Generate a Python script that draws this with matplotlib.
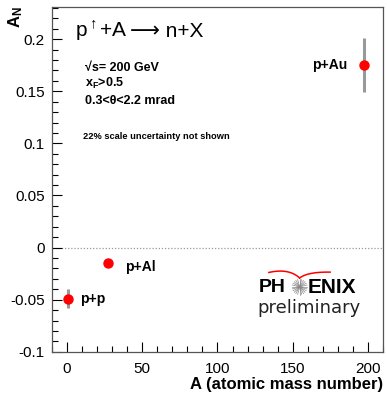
import numpy as np
import matplotlib
matplotlib.use("Agg")
import matplotlib.pyplot as plt
from matplotlib.ticker import MultipleLocator

plt.rcParams['font.family'] = ['Liberation Sans', 'DejaVu Sans']
plt.rcParams['mathtext.fontset'] = 'custom'
plt.rcParams['mathtext.rm'] = 'Liberation Sans'
plt.rcParams['mathtext.bf'] = 'Liberation Sans:bold'
plt.rcParams['mathtext.it'] = 'Liberation Sans:italic'

# Data
systems = ["p+p", "p+Al", "p+Au"]
mass_number = [1, 27, 197]
asym = [-0.049, -0.015, 0.175]
asym_err = [0.009, 0.002, 0.026]

x_ticks = [0, 50, 100, 150, 200]
y_ticks = [-0.1, -0.05, 0, 0.05, 0.1, 0.15, 0.2]
y_tick_labels = ["-0.1", "-0.05", "0", "0.05", "0.1", "0.15", "0.2"]

fig = plt.figure(figsize=(3.87, 4.03), dpi=100)
ax = fig.add_axes([0.134, 0.127, 0.856, 0.856])
ax.set_xlim(-10, 210)
ax.set_ylim(-0.1, 0.231)

ax.axhline(0, color='#999999', lw=0.9, ls=(0, (1, 1.5)), zorder=1)

ax.errorbar(mass_number, asym, yerr=asym_err, fmt='none', ecolor='#999999',
            elinewidth=2.2, capsize=0, zorder=2)
ax.plot(mass_number, asym, 'o', color='red', ms=6.5, zorder=3)

label_offsets = [(7.5, 0.0), (11.5, -0.004), (-34, 0.0)]
for name, xv, yv, (dx, dy) in zip(systems, mass_number, asym, label_offsets):
    ax.text(xv + dx, yv + dy, name, fontsize=10, fontweight='bold',
            va='center', ha='left')

ax.set_xticks(x_ticks)
ax.set_yticks(y_ticks)
ax.set_yticklabels(y_tick_labels)
ax.xaxis.set_minor_locator(MultipleLocator(10))
ax.yaxis.set_minor_locator(MultipleLocator(0.01))
ax.tick_params(which='both', direction='in', labelsize=11, top=False, right=False)
ax.tick_params(which='major', length=7, width=0.8)
ax.tick_params(which='minor', length=4, width=0.8)
ax.tick_params(axis='x', pad=7)
ax.tick_params(axis='y', pad=5)
for s in ax.spines.values():
    s.set_color('#555555')
    s.set_linewidth(0.9)

ax.set_xlabel("A (atomic mass number)", fontsize=12, fontweight='bold',
              loc='right', labelpad=1)
fig.text(0.04, 0.985, r"A$_\mathbf{N}$", rotation=90, fontsize=12,
         fontweight='bold', ha='center', va='top')

t1 = ax.text(0.07, 0.895, r"p$^{\uparrow}$+A", transform=ax.transAxes,
             fontsize=15, va='bottom', ha='left')
ax.annotate("\u27f6 n+X", xy=(1, 0), xycoords=t1, xytext=(1.5, 1.2),
            textcoords='offset points', fontsize=15, va='bottom', ha='left')
ax.text(0.1, 0.822, "√s= 200 GeV", transform=ax.transAxes, fontsize=9,
        fontweight='bold', va='center')
ax.text(0.1, 0.778, r"x$_\mathbf{F}$>0.5", transform=ax.transAxes, fontsize=9,
        fontweight='bold', va='center')
ax.text(0.1, 0.728, "0.3<θ<2.2 mrad", transform=ax.transAxes, fontsize=9,
        fontweight='bold', va='center')
ax.text(0.094, 0.624, "22% scale uncertainty not shown", transform=ax.transAxes,
        fontsize=6.7, fontweight='bold', va='center')

# PHENIX preliminary logo
ax.text(0.624, 0.187, "PH", transform=ax.transAxes, fontsize=14,
        fontweight='bold', va='center', ha='left')
ax.text(0.772, 0.187, "ENIX", transform=ax.transAxes, fontsize=15,
        fontweight='bold', va='center', ha='left')
ax.text(0.62, 0.127, "preliminary", transform=ax.transAxes, fontsize=13,
        family='DejaVu Sans', va='center', ha='left', color='#222222')
cx, cy = 0.748, 0.188
for ang in np.linspace(0, np.pi * 2, 24, endpoint=False):
    ax.plot([cx, cx + 0.023 * np.cos(ang)], [cy, cy + 0.022 * np.sin(ang)],
            transform=ax.transAxes, color='#888888', lw=0.5)


def bez(p0, p1, p2, n=40):
    t = np.linspace(0, 1, n)[:, None]
    p0, p1, p2 = map(np.array, (p0, p1, p2))
    return (1 - t) ** 2 * p0 + 2 * (1 - t) * t * p1 + t ** 2 * p2


left = bez((0.655, 0.230), (0.715, 0.243), (0.748, 0.214))
right = bez((0.748, 0.214), (0.772, 0.232), (0.84, 0.231))
ax.plot(left[:, 0], left[:, 1], transform=ax.transAxes, color='red', lw=1.1)
ax.plot(right[:, 0], right[:, 1], transform=ax.transAxes, color='red', lw=1.1)

fig.savefig("out.png", dpi=100)
